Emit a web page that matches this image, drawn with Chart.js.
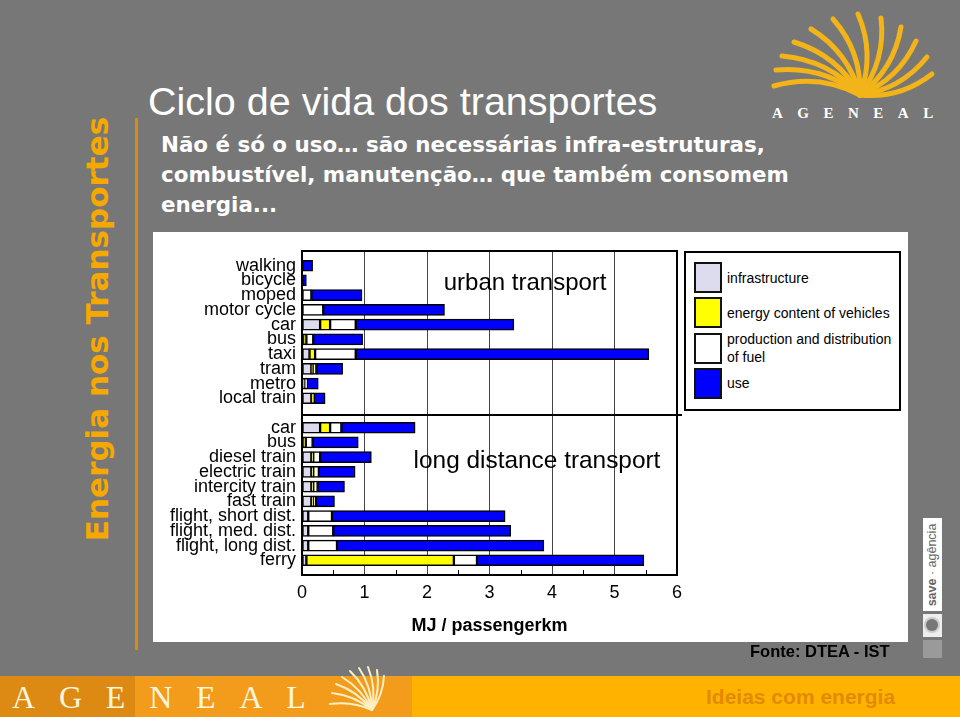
<!DOCTYPE html>
<html>
<head>
<meta charset="utf-8">
<script src="https://cdn.jsdelivr.net/npm/chart.js@4.4.1/dist/chart.umd.min.js"></script>
<style>
  html, body { margin: 0; padding: 0; }
  body { width: 960px; height: 717px; background: #777777; position: relative; overflow: hidden;
         font-family: "Liberation Sans", Arial, sans-serif; }
  .abs { position: absolute; }
  #side { left: 97px; top: 329px; transform: translate(-50%, -50%) rotate(-90deg); white-space: nowrap;
          font: bold 31px "DejaVu Sans", sans-serif; color: #f5a800; }
  #rule { left: 135px; top: 118px; width: 3px; height: 532px; background: #d68d12; }
  #title { left: 148px; top: 81px; font-size: 39.5px; line-height: 40px; color: #fff; white-space: nowrap; }
  #body { left: 161px; top: 130px; font: bold 21.4px/30px "DejaVu Sans", sans-serif; color: #fff; white-space: nowrap; }
  #box { left: 153px; top: 232px; width: 755px; height: 410px; background: #fff; }
  #legend { left: 684px; top: 251px; width: 217px; height: 160px; border: 2px solid #000; box-sizing: border-box; background: #fff; }
  .item { position: absolute; left: 8px; height: 31px; display: flex; align-items: center; }
  .sw { width: 28px; height: 31px; border: 2px solid #111; box-sizing: border-box; flex: none; }
  .lt { margin-left: 5px; width: 168px; font-size: 14px; line-height: 18px; color: #000; }
  #fonte { left: 750px; top: 641px; font: bold 16.5px/20px "Liberation Sans", Arial, sans-serif; color: #000; white-space: nowrap; }
  #bar0 { left: 0; top: 676px; width: 135px; height: 41px; background: #dc8a14; }
  #bar1 { left: 135px; top: 676px; width: 277px; height: 41px; background: #f39c1c; }
  #bar2 { left: 412px; top: 676px; width: 548px; height: 41px; background: #ffb300; }
  #ageneal { left: 12px; top: 678px; font: 32px/38px "Liberation Serif", serif; color: #fff6dc; letter-spacing: 23.8px; white-space: nowrap; }
  #ideias { left: 706px; top: 684px; font: bold 21px/26px "Liberation Sans", Arial, sans-serif; color: #e48a00; white-space: nowrap; }
  #logoTxt { left: 772px; top: 104px; font: bold 15px/18px "Liberation Serif", serif; color: #fff; letter-spacing: 14.5px; white-space: nowrap; }
  #save { left: 923px; top: 518px; width: 19px; height: 93px; background: #fff; }
  #saveTxt { left: 932px; top: 565px; transform: translate(-50%, -50%) rotate(-90deg); white-space: nowrap;
             font-size: 12.5px; color: #666; }
  #saveIco { left: 923px; top: 614px; width: 19px; height: 23px; background: #eee; }
  #saveDot { left: 926px; top: 619px; width: 12px; height: 12px; border-radius: 50%; background: #777; box-shadow: 0 0 0 2px #ccc; }
  #saveGray { left: 923px; top: 640px; width: 19px; height: 18px; background: #9a9a9a; }
  svg { position: absolute; left: 0; top: 0; }
</style>
</head>
<body>
<div id="side" class="abs">Energia nos Transportes</div>
<div id="rule" class="abs"></div>
<div id="title" class="abs">Ciclo de vida dos transportes</div>
<div id="body" class="abs">Não é só o uso… são necessárias infra-estruturas,<br>combustível, manutenção… que também consomem<br>energia...</div>

<div id="box" class="abs"><canvas id="chart"></canvas></div>
<div id="legend" class="abs"></div>

<div id="fonte" class="abs">Fonte: DTEA - IST</div>
<div id="bar0" class="abs"></div>
<div id="bar1" class="abs"></div>
<div id="bar2" class="abs"></div>
<div id="ageneal" class="abs">AGENEAL</div>
<div id="ideias" class="abs">Ideias com energia</div>
<div id="logoTxt" class="abs">AGENEAL</div>
<div id="save" class="abs"></div>
<div id="saveTxt" class="abs"><b>save</b> · agência</div>
<div id="saveIco" class="abs"></div>
<div id="saveDot" class="abs"></div>
<div id="saveGray" class="abs"></div>
<svg id="deco" width="960" height="717"></svg>

<script>
// rows, top to bottom; blank rows pad the frame and split urban / long distance
const rowLabels = ['', 'walking', 'bicycle', 'moped', 'motor cycle', 'car', 'bus', 'taxi', 'tram', 'metro', 'local train',
  '', 'car', 'bus', 'diesel train', 'electric train', 'intercity train', 'fast train',
  'flight, short dist.', 'flight, med. dist.', 'flight, long dist.', 'ferry', ''];

// MJ / passengerkm
const infrastructure = [null, null, null, null, null, 0.29, 0.02, 0.12, 0.15, 0.05, 0.15,
  null, 0.29, 0.01, 0.15, 0.15, 0.15, 0.15, 0.10, 0.10, 0.10, 0.07, null];
const vehicleEnergy = [null, null, null, null, null, 0.16, 0.05, 0.09, 0.02, 0.01, 0.03,
  null, 0.16, 0.05, 0.03, 0.03, 0.03, 0.03, null, null, null, 2.36, null];
const fuelChain = [null, null, null, 0.15, 0.34, 0.41, 0.11, 0.65, 0.06, 0.02, 0.01,
  null, 0.18, 0.11, 0.11, 0.09, 0.07, 0.04, 0.38, 0.40, 0.46, 0.37, null];
const useEnergy = [null, 0.17, 0.07, 0.81, 1.94, 2.53, 0.79, 4.69, 0.42, 0.18, 0.18,
  null, 1.18, 0.73, 0.82, 0.58, 0.43, 0.30, 2.77, 2.84, 3.31, 2.67, null];

const seriesNames = ['infrastructure', 'energy content of vehicles', 'production and distribution of fuel', 'use'];
const seriesColors = ['#dcdcee', '#ffff00', '#ffffff', '#0000ff'];
const xTicks = [0, 1, 2, 3, 4, 5, 6];
const xMinor = [0.5, 1.5, 2.5, 3.5, 4.5, 5.5];
const SEPARATOR_ROW = 11;
const panelTitles = [
  { text: 'urban transport', x: 3.57, row: 2, dy: 3 },
  { text: 'long distance transport', x: 3.76, row: 14, dy: 4 }
];

const framePlugin = {
  id: 'frame',
  afterDatasetsDraw(chart) {
    const { ctx, chartArea: a, scales: { x, y } } = chart;
    ctx.save();
    ctx.strokeStyle = '#000';
    ctx.lineWidth = 2;
    ctx.strokeRect(a.left, a.top, a.right - a.left, a.bottom - a.top);
    const sy = Math.round(y.getPixelForValue(SEPARATOR_ROW)) + 2;
    ctx.beginPath();
    ctx.moveTo(a.left, sy);
    ctx.lineTo(a.right + 5, sy);
    ctx.stroke();
    ctx.lineWidth = 1;
    ctx.beginPath();
    xMinor.forEach(v => {
      const px = Math.round(x.getPixelForValue(v)) + 0.5;
      ctx.moveTo(px, a.bottom);
      ctx.lineTo(px, a.bottom - 5);
    });
    ctx.stroke();
    ctx.fillStyle = '#000';
    ctx.textAlign = 'center';
    ctx.textBaseline = 'middle';
    panelTitles.forEach((t, i) => {
      ctx.font = (i ? '24.4px' : '24px') + ' "Liberation Sans", Arial, sans-serif';
      ctx.fillText(t.text, x.getPixelForValue(t.x), y.getPixelForValue(t.row) + t.dy);
    });
    ctx.restore();
  }
};

const series = [infrastructure, vehicleEnergy, fuelChain, useEnergy];

const chart = new Chart(document.getElementById('chart'), {
  type: 'bar',
  data: {
    labels: rowLabels,
    datasets: series.map((vals, i) => ({
      label: seriesNames[i],
      data: vals,
      backgroundColor: seriesColors[i],
      borderColor: '#000',
      borderWidth: 1.5,
      borderSkipped: false,
      barThickness: 11
    }))
  },
  options: {
    indexAxis: 'y',
    responsive: true,
    maintainAspectRatio: false,
    animation: false,
    layout: { padding: { left: 0, right: 231, top: 19, bottom: 0 } },
    plugins: { legend: { display: false }, tooltip: { enabled: false } },
    scales: {
      x: {
        stacked: true, min: 0, max: 6,
        afterBuildTicks(s) { s.ticks = xTicks.map(v => ({ value: v })); },
        afterFit(s) { s.height = 67; },
        ticks: { color: '#000', font: { size: 18, family: '"Liberation Sans", Arial, sans-serif' }, padding: 7 },
        grid: { drawTicks: false, color: c => (c.tick && (c.tick.value === 0 || c.tick.value === 6)) ? 'rgba(0,0,0,0)' : '#444', lineWidth: 1 },
        border: { display: false },
        title: { display: true, text: 'MJ / passengerkm', color: '#000',
                 font: { size: 18, weight: 'bold', family: '"Liberation Sans", Arial, sans-serif' }, padding: { top: 4, bottom: 5 } }
      },
      y: {
        stacked: true, offset: false,
        afterFit(s) { s.width = 149; },
        ticks: { autoSkip: false, color: '#000', font: { size: 18, family: '"Liberation Sans", Arial, sans-serif' }, padding: 6 },
        grid: { display: false, drawTicks: false },
        border: { display: false }
      }
    }
  },
  plugins: [framePlugin]
});

// legend box from the chart's own datasets
const legendEl = document.getElementById('legend');
chart.data.datasets.forEach((ds, i) => {
  const item = document.createElement('div');
  item.className = 'item';
  item.style.top = (9 + i * 35.3) + 'px';
  item.innerHTML = '<div class="sw" style="background:' + ds.backgroundColor + '"></div><div class="lt">' + ds.label + '</div>';
  legendEl.appendChild(item);
});

// decorative fan logos
const svg = document.getElementById('deco');
const NS = 'http://www.w3.org/2000/svg';
function fan(base, ends, width, color, bend) {
  ends.forEach(e => {
    const dx = e[0] - base[0], dy = e[1] - base[1];
    const cx = base[0] + dx / 2 - dy * bend;
    const cy = base[1] + dy / 2 + dx * bend;
    const p = document.createElementNS(NS, 'path');
    p.setAttribute('d', 'M' + base[0] + ' ' + base[1] + ' Q' + cx + ' ' + cy + ' ' + e[0] + ' ' + e[1]);
    p.setAttribute('fill', 'none');
    p.setAttribute('stroke', color);
    p.setAttribute('stroke-width', width);
    p.setAttribute('stroke-linecap', 'round');
    svg.appendChild(p);
  });
}
fan([860, 95], [[774, 86], [776, 70], [782, 56], [794, 42], [811, 29], [833, 19], [858, 14], [881, 18], [901, 27], [916, 41], [927, 57], [932, 74]], 5, '#f2b418', 0.2);
fan([372, 710], [[330, 704], [332, 693], [336, 684], [342, 677], [350, 671], [359, 668], [368, 667], [377, 670], [384, 676]], 2, '#fff0c4', 0.15);
</script>
</body>
</html>
